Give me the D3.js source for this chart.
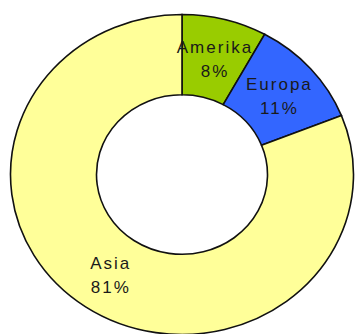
<!DOCTYPE html>
<html>
<head>
<meta charset="utf-8">
<script src="https://cdn.jsdelivr.net/npm/d3@7"></script>
<style>
  html, body { margin: 0; padding: 0; background: #ffffff; }
  svg { display: block; }
</style>
</head>
<body>
<svg id="chart" width="356" height="334"></svg>
<script>
const regions = ['Amerika', 'Europa', 'Asia'];
const shares = [8, 11, 81];
const colors = ['#99cc00', '#3366ff', '#ffff99'];

(function() {
    var svg = d3.select('#chart');
    var cx = 182, cy = 174.5;
    var rx = 171.5, ry = 160;
    var inner = 85.5;

    var pie = d3.pie().sort(null).value(function(d) { return d.v; });
    var arcs = pie(regions.map(function(r, i) { return {name: r, v: shares[i], c: colors[i]}; }));

    var arc = d3.arc().innerRadius(inner).outerRadius(rx);
    var labelArc = d3.arc().innerRadius((inner + rx) / 2).outerRadius((inner + rx) / 2);

    // pie is slightly squashed vertically
    var g = svg.append('g')
        .attr('transform', 'translate(' + cx + ',' + cy + ') scale(1,' + (ry / rx) + ')');

    g.selectAll('path')
        .data(arcs)
        .enter().append('path')
        .attr('d', arc)
        .style('fill', function(d) { return d.data.c; })
        .style('stroke', '#111')
        .style('stroke-width', 1.6)
        .attr('vector-effect', 'non-scaling-stroke');

    var labels = svg.append('g')
        .selectAll('text')
        .data(arcs)
        .enter().append('text')
        .attr('text-anchor', 'middle')
        .style('font-family', '"Liberation Sans", Arial, sans-serif')
        .style('font-size', '17px')
        .style('letter-spacing', '2px')
        .style('fill', '#1a1a1a')
        .attr('transform', function(d) {
            var p = labelArc.centroid(d);
            return 'translate(' + (cx + p[0] + 1) + ',' + (cy + p[1] * ry / rx) + ')';
        });

    labels.append('tspan')
        .attr('x', 0).attr('y', -5)
        .text(function(d) { return d.data.name; });
    labels.append('tspan')
        .attr('x', 0).attr('y', 19)
        .text(function(d) { return d.data.v + '%'; });
})();
</script>
</body>
</html>
